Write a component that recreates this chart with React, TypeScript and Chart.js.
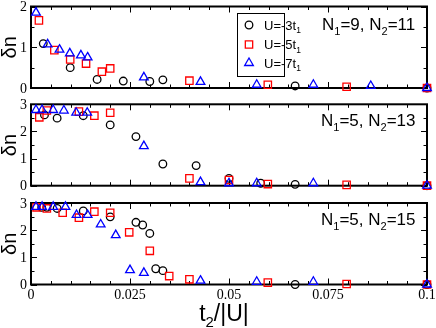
import React, { useEffect, useRef } from "react";
import { Chart, registerables } from "chart.js";
Chart.register(...registerables);

const W = 436;
const H = 328;

// ---- axis ticks ----
const xTickValues = [0, 0.025, 0.05, 0.075, 0.1];
const xTickLabels = ["0", "0.025", "0.05", "0.075", "0.1"];
const xMinorStep = 0.005;
const yMinorStep = 0.5;

// ---- series labels (subscript "1" appended when drawn) ----
const seriesLabels = ["U=-3t", "U=-5t", "U=-7t"];
const seriesColors = ["#000000", "#ff0000", "#0000ff"];

// ---- Panel 1: N1=9, N2=11 ----
const p1U3x = [0.0031, 0.0099, 0.0167, 0.0233, 0.030, 0.0333, 0.0667, 0.1];
const p1U3y = [1.09, 0.50, 0.21, 0.17, 0.16, 0.20, 0.05, 0];
const p1U5x = [0.002, 0.0059, 0.0099, 0.0139, 0.0179, 0.020, 0.040, 0.0598, 0.0797, 0.1];
const p1U5y = [1.66, 0.93, 0.70, 0.60, 0.40, 0.48, 0.18, 0.08, 0.03, 0];
const p1U7x = [0.00126, 0.0042, 0.0072, 0.0098, 0.0126, 0.0143, 0.0285, 0.0428, 0.057, 0.0713, 0.0858, 0.1];
const p1U7y = [1.85, 1.07, 0.94, 0.85, 0.80, 0.75, 0.26, 0.15, 0.08, 0.08, 0.05, 0];
const p1YTicks = [0, 1, 2];

// ---- Panel 2: N1=5, N2=13 ----
const p2U3x = [0.0034, 0.0066, 0.0132, 0.020, 0.0265, 0.0333, 0.0417, 0.050, 0.058, 0.0667, 0.1];
const p2U3y = [2.61, 2.49, 2.58, 2.24, 1.81, 0.80, 0.74, 0.27, 0.09, 0.05, 0];
const p2U5x = [0.0021, 0.0040, 0.0121, 0.016, 0.020, 0.040, 0.050, 0.0598, 0.0797, 0.1];
const p2U5y = [2.52, 2.77, 2.73, 2.58, 2.69, 0.27, 0.21, 0.06, 0.03, 0];
const p2U7x = [0.00126, 0.0028, 0.0056, 0.0083, 0.0114, 0.0142, 0.0285, 0.0428, 0.050, 0.057, 0.0713, 0.1];
const p2U7y = [2.79, 2.79, 2.79, 2.77, 2.69, 2.69, 1.46, 0.13, 0.09, 0.09, 0.09, 0];
const p2YTicks = [0, 1, 2, 3];

// ---- Panel 3: N1=5, N2=15 ----
const p3U3x = [0.0027, 0.004, 0.0066, 0.0132, 0.020, 0.0265, 0.0282, 0.030, 0.0315, 0.0333, 0.0667, 0.1];
const p3U3y = [2.84, 2.84, 2.80, 2.71, 2.49, 2.29, 2.19, 1.88, 0.58, 0.51, 0, 0];
const p3U5x = [0.0014, 0.004, 0.008, 0.0121, 0.016, 0.020, 0.0248, 0.030, 0.0349, 0.040, 0.0598, 0.0797, 0.1];
const p3U5y = [2.84, 2.80, 2.64, 2.46, 2.68, 2.64, 1.92, 1.24, 0.31, 0.19, 0.07, 0.02, 0];
const p3U7x = [0.00126, 0.0028, 0.0056, 0.0087, 0.0115, 0.0143, 0.0176, 0.0214, 0.025, 0.0285, 0.0428, 0.057, 0.0713, 0.1];
const p3U7y = [2.86, 2.86, 2.86, 2.86, 2.56, 2.56, 2.21, 1.82, 0.53, 0.43, 0.14, 0.1, 0.1, 0];
const p3YTicks = [0, 1, 2, 3];

type Rich = [string, boolean][];

const zip = (xs: number[], ys: number[]) => xs.map((x, i) => ({ x, y: ys[i] }));

const SANS = '"Liberation Sans", Arial, sans-serif';
const SERIF = '"Liberation Serif", "Times New Roman", serif';

const pointStyles = ["circle", "rect", "triangle"];
const pointRadii = [3.8, 5.2, 5];

function drawRich(ctx: CanvasRenderingContext2D, x: number, y: number, parts: Rich, size: number, family: string) {
  let cx = x;
  for (const [t, sub] of parts) {
    const s = sub ? size * 0.65 : size;
    ctx.font = `${s}px ${family}`;
    ctx.fillText(t, cx, sub ? y + size * 0.28 : y);
    cx += ctx.measureText(t).width;
  }
  return cx - x;
}

function richWidth(ctx: CanvasRenderingContext2D, parts: Rich, size: number, family: string) {
  let w = 0;
  for (const [t, sub] of parts) {
    const s = sub ? size * 0.65 : size;
    ctx.font = `${s}px ${family}`;
    w += ctx.measureText(t).width;
  }
  return w;
}

function drawMarker(ctx: CanvasRenderingContext2D, style: string, x: number, y: number, r: number) {
  ctx.beginPath();
  if (style === "circle") {
    ctx.arc(x, y, r, 0, Math.PI * 2);
  } else if (style === "rect") {
    const s = Math.SQRT1_2 * r;
    ctx.rect(x - s, y - s, 2 * s, 2 * s);
  } else {
    let rad = 0;
    ctx.moveTo(x + Math.sin(rad) * r, y - Math.cos(rad) * r);
    rad += (2 * Math.PI) / 3;
    ctx.lineTo(x + Math.sin(rad) * r, y - Math.cos(rad) * r);
    rad += (2 * Math.PI) / 3;
    ctx.lineTo(x + Math.sin(rad) * r, y - Math.cos(rad) * r);
    ctx.closePath();
  }
  ctx.stroke();
}

interface PanelCfg {
  key: string;
  top: number;
  bottom: number;
  yMax: number;
  yTicks: number[];
  series: { x: number[]; y: number[] }[];
  note: Rich;
  noteX: number;
  noteY: number;
  showX: boolean;
  showLegend: boolean;
}

const panels: PanelCfg[] = [
  {
    key: "p1", top: 6, bottom: 88, yMax: 2, yTicks: p1YTicks,
    series: [{ x: p1U3x, y: p1U3y }, { x: p1U5x, y: p1U5y }, { x: p1U7x, y: p1U7y }],
    note: [["N", false], ["1", true], ["=9, N", false], ["2", true], ["=11", false]],
    noteX: 322, noteY: 30, showX: false, showLegend: true,
  },
  {
    key: "p2", top: 104.3, bottom: 185.7, yMax: 3, yTicks: p2YTicks,
    series: [{ x: p2U3x, y: p2U3y }, { x: p2U5x, y: p2U5y }, { x: p2U7x, y: p2U7y }],
    note: [["N", false], ["1", true], ["=5, N", false], ["2", true], ["=13", false]],
    noteX: 321, noteY: 126, showX: false, showLegend: false,
  },
  {
    key: "p3", top: 203, bottom: 284.5, yMax: 3, yTicks: p3YTicks,
    series: [{ x: p3U3x, y: p3U3y }, { x: p3U5x, y: p3U5y }, { x: p3U7x, y: p3U7y }],
    note: [["N", false], ["1", true], ["=5, N", false], ["2", true], ["=15", false]],
    noteX: 321, noteY: 225, showX: true, showLegend: false,
  },
];

function makePlugin(cfg: PanelCfg) {
  return {
    id: "frame_" + cfg.key,
    beforeDatasetsDraw(chart: any) {
      const ctx: CanvasRenderingContext2D = chart.ctx;
      const a = chart.chartArea;
      const xs = chart.scales.x;
      const ys = chart.scales.y;
      ctx.save();
      ctx.strokeStyle = "#000";
      ctx.lineWidth = 1;
      ctx.beginPath();
      const nx = Math.round(0.1 / xMinorStep);
      for (let i = 0; i <= nx; i++) {
        const v = i * xMinorStep;
        const px = Math.round(xs.getPixelForValue(v)) + 0.5;
        const len = i % 5 === 0 ? 6 : 3.5;
        ctx.moveTo(px, a.bottom);
        ctx.lineTo(px, a.bottom - len);
        ctx.moveTo(px, a.top);
        ctx.lineTo(px, a.top + len);
      }
      const ny = Math.round(cfg.yMax / yMinorStep);
      for (let i = 0; i <= ny; i++) {
        const v = i * yMinorStep;
        const py = Math.round(ys.getPixelForValue(v)) + 0.5;
        const len = i % 2 === 0 ? 6 : 3.5;
        ctx.moveTo(a.left, py);
        ctx.lineTo(a.left + len, py);
        ctx.moveTo(a.right, py);
        ctx.lineTo(a.right - len, py);
      }
      ctx.stroke();
      ctx.lineWidth = 2;
      ctx.strokeRect(a.left, a.top, a.right - a.left, a.bottom - a.top);

      ctx.fillStyle = "#000";
      ctx.font = `14px ${SERIF}`;
      ctx.textAlign = "right";
      ctx.textBaseline = "middle";
      for (const v of cfg.yTicks) {
        ctx.fillText(String(v), a.left - 4, ys.getPixelForValue(v) + 1);
      }
      if (cfg.showX) {
        ctx.textAlign = "center";
        ctx.textBaseline = "top";
        xTickValues.forEach((v, i) => {
          ctx.fillText(xTickLabels[i], xs.getPixelForValue(v), a.bottom + 4);
        });
        // x axis title
        ctx.textAlign = "left";
        ctx.textBaseline = "alphabetic";
        const title: Rich = [["t", false], ["2", true], ["/|U|", false]];
        const tw = richWidth(ctx, title, 23, SANS);
        drawRich(ctx, (a.left + a.right) / 2 - 5 - tw / 2, 321, title, 23, SANS);
      }
      // y axis title
      ctx.save();
      ctx.translate(10, (a.top + a.bottom) / 2);
      ctx.rotate(-Math.PI / 2);
      ctx.font = `20px ${SANS}`;
      ctx.textAlign = "center";
      ctx.textBaseline = "middle";
      ctx.fillText("δn", 0, 0);
      ctx.restore();
      ctx.restore();
    },
    afterDraw(chart: any) {
      const ctx: CanvasRenderingContext2D = chart.ctx;
      ctx.save();
      ctx.fillStyle = "#000";
      ctx.textAlign = "left";
      ctx.textBaseline = "alphabetic";
      drawRich(ctx, cfg.noteX, cfg.noteY, cfg.note, 17, SANS);
      if (cfg.showLegend) {
        ctx.strokeStyle = "#000";
        ctx.lineWidth = 1;
        ctx.strokeRect(237.5, 13.5, 47, 63);
        const rows = [25, 44.5, 63];
        seriesLabels.forEach((lab, i) => {
          ctx.strokeStyle = seriesColors[i];
          ctx.lineWidth = 1.3;
          drawMarker(ctx, pointStyles[i], 249, rows[i], pointRadii[i]);
          ctx.fillStyle = "#000";
          drawRich(ctx, 264, rows[i] + 4.5, [[lab, false], ["1", true]], 13, SANS);
        });
      }
      ctx.restore();
    },
  };
}

function Panel({ cfg }: { cfg: PanelCfg }) {
  const ref = useRef<HTMLCanvasElement>(null);
  useEffect(() => {
    const datasets = cfg.series.map((s, i) => ({
      label: seriesLabels[i],
      data: zip(s.x, s.y),
      showLine: false,
      pointStyle: pointStyles[i],
      pointRadius: pointRadii[i],
      pointBorderWidth: 1.3,
      pointBorderColor: seriesColors[i],
      pointBackgroundColor: "rgba(0,0,0,0)",
      borderColor: seriesColors[i],
      backgroundColor: "rgba(0,0,0,0)",
      clip: false as any,
      order: 2 - i,
    }));
    const chart = new Chart(ref.current as HTMLCanvasElement, {
      type: "scatter",
      data: { datasets },
      options: {
        animation: false,
        responsive: false,
        devicePixelRatio: 1,
        events: [],
        layout: { padding: { left: 31, right: 9, top: cfg.top, bottom: H - cfg.bottom } },
        scales: {
          x: { type: "linear", min: 0, max: 0.1, display: false },
          y: { type: "linear", min: 0, max: cfg.yMax, display: false },
        },
        plugins: { legend: { display: false }, tooltip: { enabled: false } },
      },
      plugins: [makePlugin(cfg)],
    });
    return () => chart.destroy();
  }, []);
  return (
    <canvas
      ref={ref}
      width={W}
      height={H}
      style={{ position: "absolute", left: 0, top: 0, width: W, height: H }}
    />
  );
}

export default function App() {
  return (
    <div style={{ position: "fixed", left: 0, top: 0, width: W, height: H, background: "#fff" }}>
      {panels.map((p) => (
        <Panel key={p.key} cfg={p} />
      ))}
    </div>
  );
}
